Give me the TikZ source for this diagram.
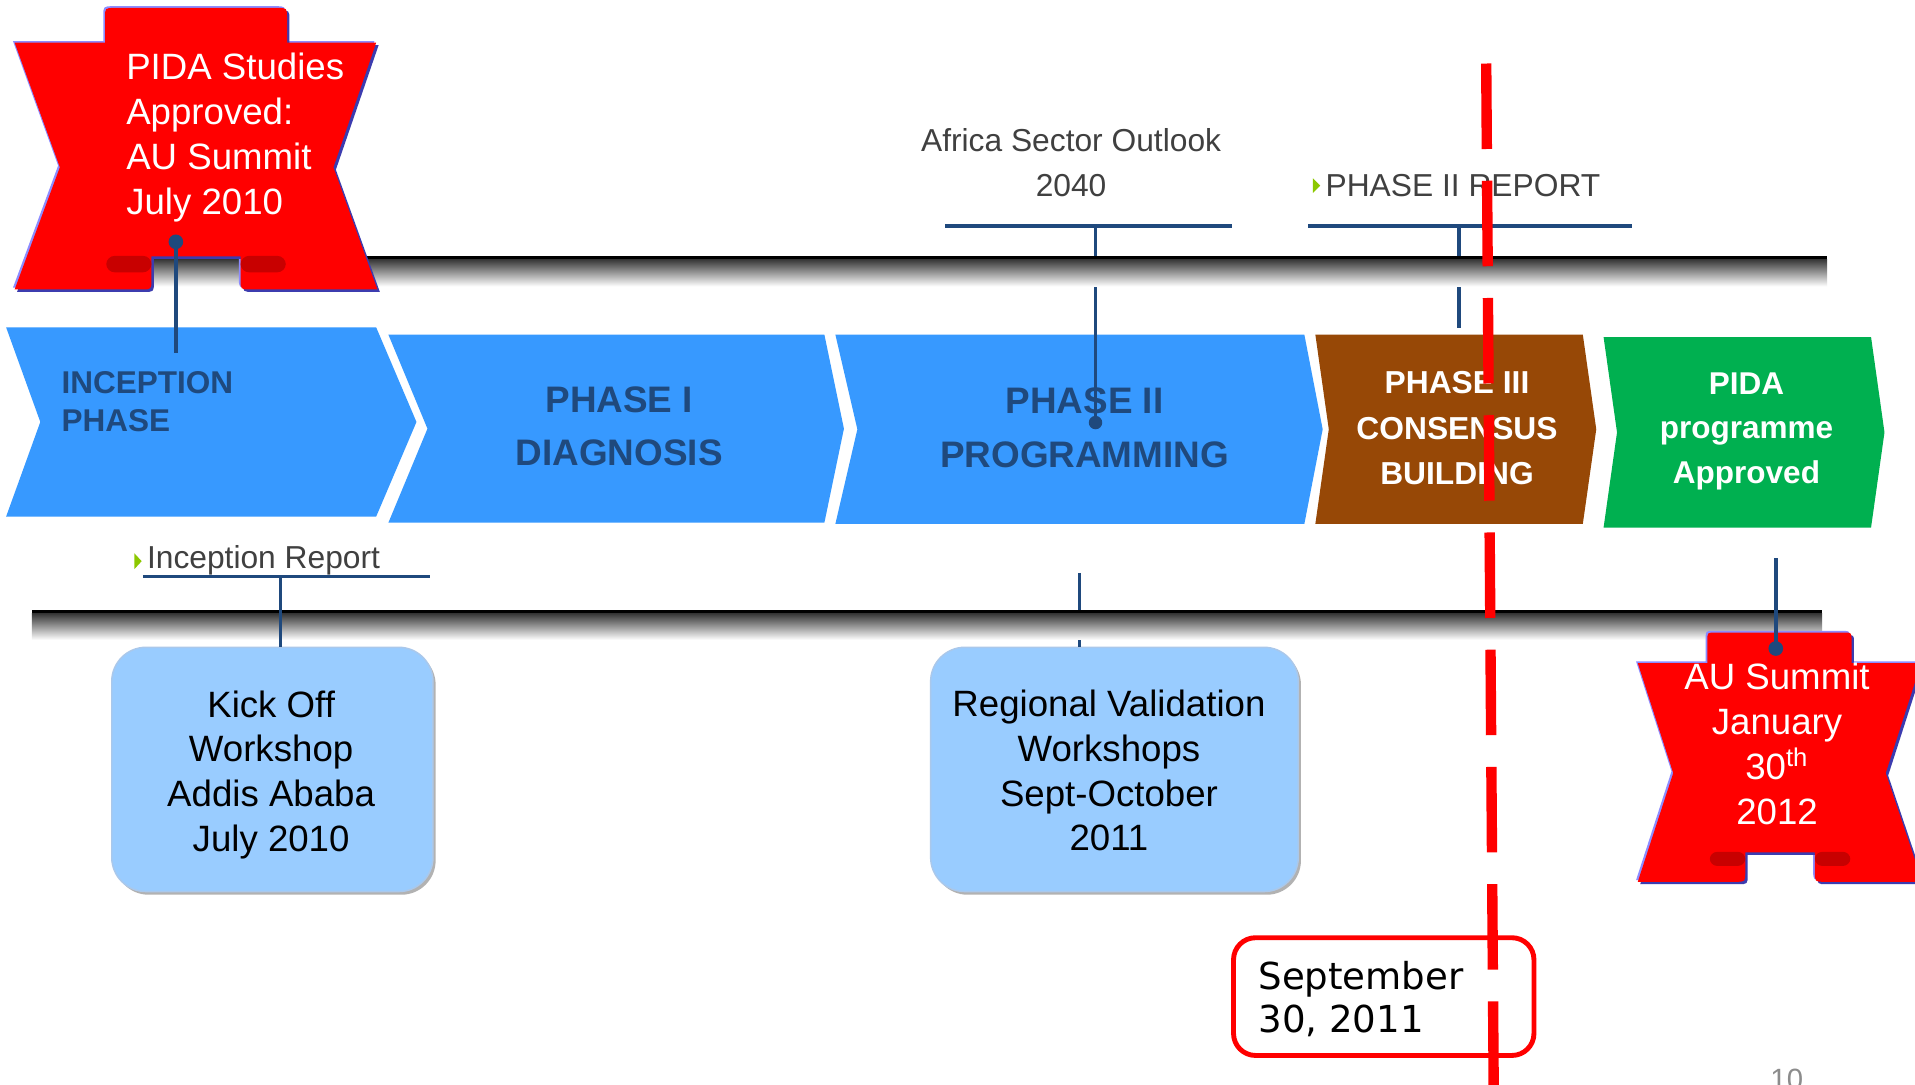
\documentclass[tikz,border=0pt]{standalone}
\usepackage{fontspec}
\setmainfont{Liberation Sans}
\newfontfamily\septfont{DejaVu Sans}
\usetikzlibrary{shadows}
\definecolor{phblue}{RGB}{55,153,255}
\definecolor{navy}{RGB}{31,73,125}
\definecolor{phbrown}{RGB}{151,72,6}
\definecolor{phgreen}{RGB}{0,176,80}
\definecolor{lightbox}{RGB}{153,204,255}
\definecolor{boxedge}{RGB}{170,200,235}
\definecolor{txtgray}{RGB}{64,64,64}
\definecolor{bullgreen}{RGB}{140,200,0}
\definecolor{tagred}{RGB}{255,0,0}
\definecolor{tagdark}{RGB}{200,0,0}
\definecolor{tagshadow}{RGB}{60,60,175}
\definecolor{taglight}{RGB}{140,140,255}
\definecolor{pagegray}{RGB}{140,140,140}
\def\tagApath{(12,35) -- (86,35) -- (86,14.5) .. controls (86,6.5) .. (94,6.5) -- (227,6.5) .. controls (235,6.5) .. (235,14.5) -- (235,35) -- (308,35) -- (273,137) -- (309,237) -- (205,237) .. controls (197,237) .. (197,229) -- (197,210) -- (124,210) -- (124,229) .. controls (124,237) .. (116,237) -- (12,237) -- (49,137) -- cycle}
\def\tagBpath{(1341,543) -- (1398,543) -- (1398,524) .. controls (1398,518) .. (1404,518) -- (1510,518) .. controls (1516,518) .. (1516,524) -- (1516,543) -- (1573,543) -- (1544,633) -- (1574,722) -- (1494,722) .. controls (1486,722) .. (1486,714) -- (1486,698) -- (1429,698) -- (1429,714) .. controls (1429,722) .. (1421,722) -- (1341,722) -- (1370,633) -- cycle}
\begin{document}
\begin{tikzpicture}[x=0.5pt,y=-0.5pt,
  navyline/.style={draw=navy, line width=1.4pt},
  dotnode/.style={circle, fill=navy, inner sep=0pt, minimum size=6pt},
  phtext/.style={inner sep=0pt, align=center, font=\bfseries\fontsize{15.1}{22}\selectfont, text=navy},
  phsmall/.style={inner sep=0pt, align=center, font=\bfseries\fontsize{13}{18.75}\selectfont, text=white},
  tagtext/.style={inner sep=0pt, font=\fontsize{15}{18.5}\selectfont, text=white},
  calltext/.style={inner sep=0pt, font=\fontsize{13}{18.5}\selectfont, text=txtgray},
  lbox/.style={draw=boxedge, line width=0.6pt, fill=lightbox, rounded corners=14pt,
     drop shadow={shadow xshift=1.1pt, shadow yshift=-1.3pt, fill=black!50, opacity=0.6},
     inner sep=0pt},
  lboxtext/.style={align=center, inner sep=0pt, font=\fontsize{15}{18.35}\selectfont, text=black},
  septbox/.style={draw=red, line width=2pt, rounded corners=9pt, fill=white,
     minimum width=123pt, minimum height=48.2pt, inner sep=0pt},
  reddash/.style={draw=red, line width=4.25pt, dash pattern=on 35pt off 13pt},
  bullet/.style={fill=bullgreen},
]
\useasboundingbox (0,0) rectangle (1568,888);
\clip (0,0) rectangle (1568,888);
\fill[white] (0,0) rectangle (1568,888);

% chevrons
\fill[phblue] (5,268) -- (308,268) -- (341,345.5) -- (308,423) -- (5,423) -- (33,345.5) -- cycle;
\fill[phblue] (318,274) -- (675,274) -- (691,351) -- (675,428) -- (318,428) -- (350,351) -- cycle;
\fill[phblue] (684,274) -- (1068,274) -- (1083,351.5) -- (1068,429) -- (684,429) -- (702,351.5) -- cycle;
\fill[phbrown] (1077,274) -- (1296,274) -- (1307,351.5) -- (1296,429) -- (1077,429) -- (1088,351.5) -- cycle;
\fill[phgreen] (1313,276) -- (1532,276) -- (1543,354) -- (1532,432) -- (1313,432) -- (1324,354) -- cycle;

\node[phtext, align=left, anchor=west, font=\bfseries\fontsize{12.9}{15.5}\selectfont] (inc) at (50,329) {INCEPTION\\PHASE};
\node[phtext] (ph1) at (507,349) {PHASE I\\DIAGNOSIS};
\node[phtext] (ph2) at (888,350) {PHASE II\\PROGRAMMING};
\node[phsmall] (ph3) at (1193,350.5) {PHASE III\\CONSENSUS\\BUILDING};
\node[phsmall, font=\bfseries\fontsize{12.9}{18.2}\selectfont] (pida) at (1430,353) {PIDA\\programme\\Approved};

% connectors hidden by the bars
\coordinate (afM) at (897,185);
\coordinate (afL) at (774,185);
\coordinate (afR) at (1009,185);
\node[dotnode, minimum size=5.5pt] (afdot) at (897,346) {};
\draw[navyline] (afM) -- (afdot.center);
\coordinate (p2M) at (1194.5,185);
\coordinate (p2L) at (1071,185);
\coordinate (p2R) at (1336,185);
\coordinate (p2end) at (1194.5,268.5);
\draw[navyline] (p2M) -- (p2end);

\node[lbox, minimum width=150.5pt, minimum height=100pt] (reg) at (912.5,630) {};
\node[lboxtext] (regtxt) at (908,631) {Regional Validation\\Workshops\\Sept-October\\2011};
\coordinate (rvtop) at (884,469);
\draw[navyline] (rvtop) -- (rvtop |- reg.north);

% timeline bars
\fill[black] (26,209.5) rectangle (1496,212.5);
\shade[top color=black!78, bottom color=white] (26,212.5) rectangle (1496,234.5);
\fill[black] (26,499.5) rectangle (1492,502.5);
\shade[top color=black!78, bottom color=white] (26,502.5) rectangle (1492,524);

% top-left tag
\fill[taglight, xshift=-0.7pt, yshift=0.7pt] \tagApath;
\fill[tagshadow, xshift=1pt, yshift=-1pt] \tagApath;
\fill[tagred] \tagApath;
\fill[tagdark, rounded corners=3.5pt] (87,209.5) rectangle (124,223);
\fill[tagdark, rounded corners=3.5pt] (197,209.5) rectangle (234,223);
\node[tagtext, align=left, anchor=west] (tagA) at (103,112.5) {PIDA Studies\\Approved:\\AU Summit\\July 2010};
\node[dotnode] (tagAdot) at (144,198) {};
\coordinate (tagAend) at (144,289);
\draw[navyline] (tagAdot.center) -- (tagAend);

% callouts above
\draw[navyline] (afL) -- (afR);
\node[calltext, align=center] (afr) at (877,133.5) {Africa Sector Outlook\\2040};
\draw[navyline] (p2L) -- (p2R);
\fill[bullet] (1075,146) -- (1081,152) -- (1075,158) -- cycle;
\node[calltext, anchor=west] (p2rep) at (1085,152) {PHASE II REPORT};

% callout below
\coordinate (irL) at (117,472);
\coordinate (irR) at (352,472);
\coordinate (irM) at (229.5,472);
\fill[bullet] (110,453) -- (116,459.5) -- (110,466) -- cycle;
\node[calltext, anchor=west, font=\fontsize{13}{15}\selectfont] (irep) at (120,459) {Inception Report};
\draw[navyline] (irL) -- (irR);

\node[lbox, minimum width=131.5pt, minimum height=100pt] (kick) at (223,630) {};
\node[lboxtext] (kicktxt) at (222,634.5) {Kick Off\\Workshop\\Addis Ababa\\July 2010};
\draw[navyline] (irM) -- (irM |- kick.north);

% AU summit tag
\fill[taglight, xshift=-0.7pt, yshift=0.7pt] \tagBpath;
\fill[tagshadow, xshift=1pt, yshift=-1pt] \tagBpath;
\fill[tagred] \tagBpath;
\fill[tagdark, rounded corners=3pt] (1400,697.5) rectangle (1429,709);
\fill[tagdark, rounded corners=3pt] (1486,697.5) rectangle (1515,709);
\coordinate (autop) at (1454,457);
\node[dotnode] (audot) at (1454,531) {};
\draw[navyline] (autop) -- (audot.center);
\node[tagtext, align=center] (tagB) at (1455,609) {AU Summit\\January\\30\textsuperscript{th}\\2012};

% September box
\node[septbox] (sept) at (1133,816) {};
\node[inner sep=0pt, align=left, anchor=west, font=\septfont\fontsize{15.2}{18}\selectfont, text=black] (septtxt) at (1030,818) {September\\30, 2011};

% page number
\node[inner sep=0pt, anchor=base, font=\fontsize{12}{14}\selectfont, text=pagegray] (pagenum) at (1463,892) {10};

% red dashed date line
\coordinate (rdtop) at (1216.9,52);
\coordinate (rdbot) at (1223.1,900);
\draw[reddash] (rdtop) -- (rdbot);
\end{tikzpicture}
\end{document}
